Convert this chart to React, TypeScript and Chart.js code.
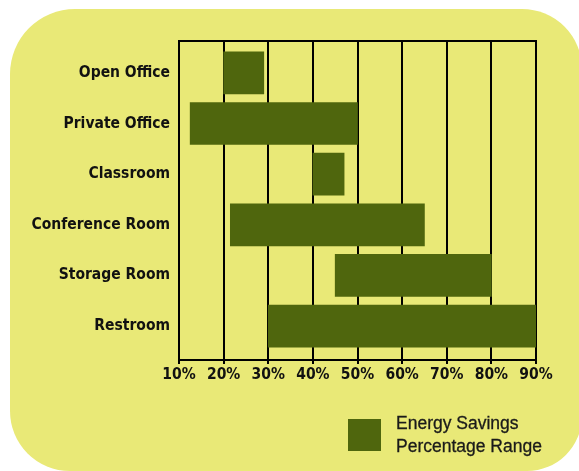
import React, { useEffect, useRef } from "react";
import { Chart, registerables } from "chart.js";

Chart.register(...registerables);

const categories = [
  "Open Office",
  "Private Office",
  "Classroom",
  "Conference Room",
  "Storage Room",
  "Restroom",
];
const rangeLow = [20, 12.5, 40, 21.5, 45, 30];
const rangeHigh = [29, 50, 47, 65, 80, 90];
const xTickValues = [10, 20, 30, 40, 50, 60, 70, 80, 90];
const legendLines = ["Energy Savings", "Percentage Range"];

const BAR = "#4f660d";
const YELLOW = "#e9e977";
const NARROW = "'DejaVu Sans Condensed', 'DejaVu Sans', sans-serif";
const SANS = "'Liberation Sans', Arial, sans-serif";

export default function App() {
  const ref = useRef<HTMLCanvasElement | null>(null);

  useEffect(() => {
    if (!ref.current) return;
    const data = categories.map((_, i) => ({ y: i, x: [rangeLow[i], rangeHigh[i]] }));
    const chart = new Chart(ref.current, {
      type: "bar",
      data: {
        datasets: [
          {
            label: legendLines.join(" "),
            data: data as any,
            backgroundColor: BAR,
            borderWidth: 0,
            barThickness: 42,
          },
        ],
      },
      options: {
        indexAxis: "y",
        animation: false,
        responsive: false,
        layout: { padding: { left: 0, top: 41, right: 43, bottom: 81 } },
        scales: {
          x: {
            type: "linear",
            position: "bottom",
            min: 10,
            max: 90,
            afterBuildTicks: (scale: any) => {
              scale.ticks = xTickValues.map((v) => ({ value: v }));
            },
            afterFit: (scale: any) => {
              scale.height = 30;
            },
            ticks: {
              callback: (v: any) => v + "%",
              color: "#111",
              font: { family: NARROW, size: 15.5, weight: "bold" },
              padding: 2,
              maxRotation: 0,
              autoSkip: false,
            },
            grid: { color: "#000", lineWidth: 2, tickLength: 4, drawOnChartArea: true },
            border: { color: "#000", width: 2 },
          },
          x2: {
            type: "linear",
            position: "top",
            min: 10,
            max: 90,
            grid: { display: false, drawTicks: false },
            ticks: { display: false },
            border: { display: true, color: "#000", width: 2 },
          },
          y: {
            type: "linear",
            reverse: true,
            offset: false,
            min: -0.63,
            max: 5.67,
            afterBuildTicks: (scale: any) => {
              scale.ticks = categories.map((_, i) => ({ value: i }));
            },
            afterFit: (scale: any) => {
              scale.width = 179;
            },
            ticks: {
              callback: (v: any) => categories[v] ?? "",
              color: "#111",
              font: { family: NARROW, size: 15.5, weight: "bold" },
              padding: 9,
              autoSkip: false,
            },
            grid: { display: false, drawTicks: false, offset: false },
            border: { color: "#000", width: 2 },
          },
        },
        plugins: {
          tooltip: { enabled: false },
          legend: { display: false },
        },
      },
    });
    return () => chart.destroy();
  }, []);

  return (
    <div
      style={{
        position: "fixed",
        left: 0,
        top: 0,
        width: 579,
        height: 471,
        overflow: "hidden",
        background: "#fff",
      }}
    >
      <div
        style={{
          position: "absolute",
          left: 10,
          top: 9,
          width: 572,
          height: 462,
          background: YELLOW,
          borderRadius: "65px 60px 55px 60px",
        }}
      />
      <canvas
        ref={ref}
        width={579}
        height={471}
        style={{ position: "absolute", left: 0, top: 0, width: 579, height: 471 }}
      />
      <div
        style={{
          position: "absolute",
          left: 348,
          top: 419,
          width: 33,
          height: 32,
          background: BAR,
        }}
      />
      <div
        style={{
          position: "absolute",
          left: 396,
          top: 412,
          fontFamily: SANS,
          fontSize: 17.5,
          lineHeight: "23px",
          color: "#1a1a1a",
          whiteSpace: "nowrap",
          WebkitTextStroke: "0.3px #1a1a1a",
        }}
      >
        {legendLines.map((l) => (
          <div key={l}>{l}</div>
        ))}
      </div>
    </div>
  );
}
